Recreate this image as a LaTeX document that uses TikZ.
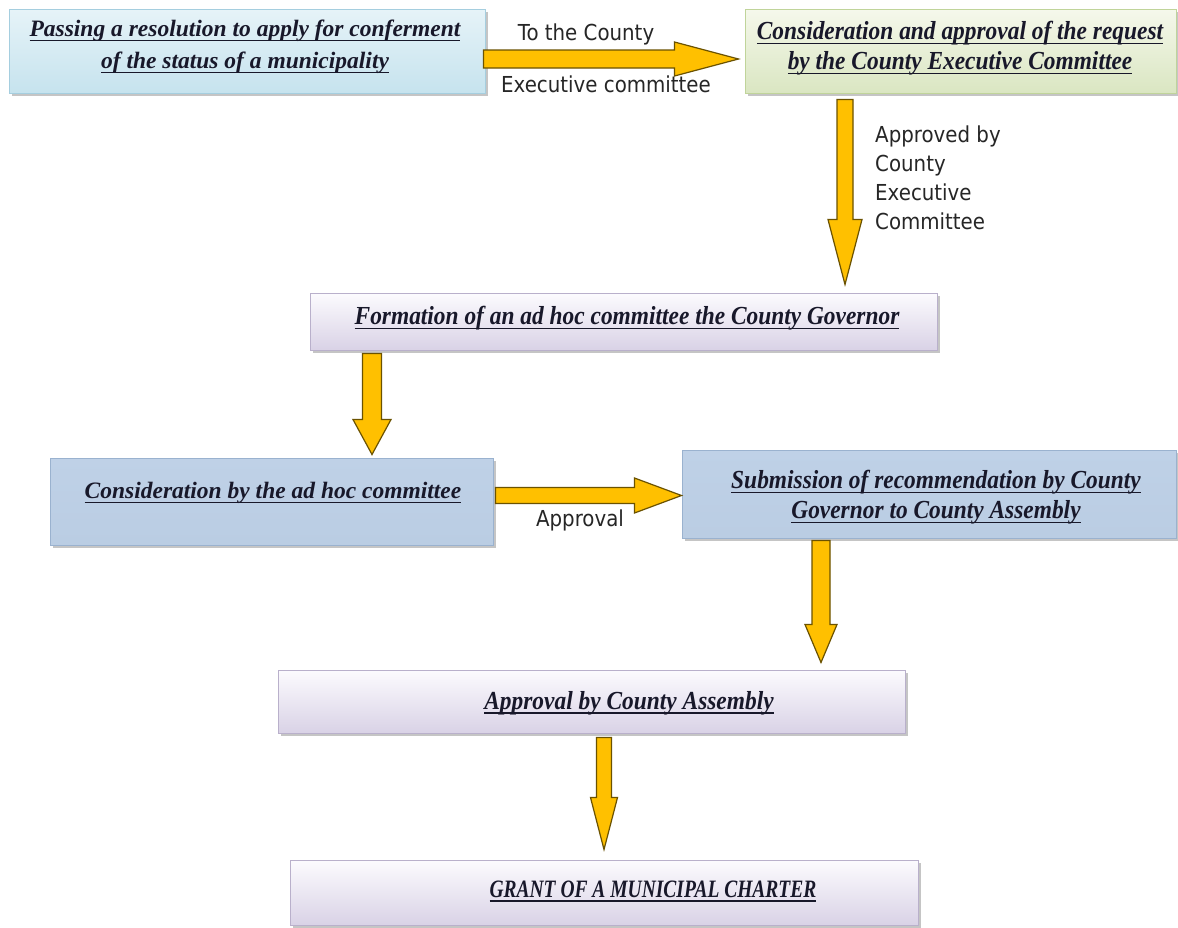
\documentclass[tikz,border=0pt]{standalone}
\usepackage{fontspec}
\setmainfont{Liberation Serif}
\newfontfamily\boxfont{Liberation Serif}
\newfontfamily\condfont{Liberation Serif}[FakeStretch=0.9]
\newfontfamily\capfont{Liberation Serif}[FakeStretch=0.78]
\newfontfamily\lblfont{DejaVu Sans}[FakeStretch=0.9]
\newcommand{\ulx}[1]{\leavevmode\setbox0\hbox{#1}\rlap{\vrule width\wd0 height -3.2pt depth 4.5pt}\box0}
\usetikzlibrary{calc,shadows}
\definecolor{arrfill}{HTML}{FFC000}
\definecolor{arrdraw}{HTML}{6B5200}
\definecolor{txtcol}{HTML}{18182A}
\definecolor{cyanT}{HTML}{E6F3F8}
\definecolor{cyanB}{HTML}{C6E3EE}
\definecolor{cyanD}{HTML}{A5CEDF}
\definecolor{grnT}{HTML}{F5F8EB}
\definecolor{grnB}{HTML}{DAE6C2}
\definecolor{grnD}{HTML}{C0D49A}
\definecolor{lilT}{HTML}{FCFBFE}
\definecolor{lilB}{HTML}{D9D2E6}
\definecolor{lilD}{HTML}{B9B0CB}
\definecolor{bluT}{HTML}{BFD1E7}
\definecolor{bluM}{HTML}{E6EDF6}
\definecolor{bluB}{HTML}{BACDE3}
\definecolor{bluD}{HTML}{9AB2CF}
\tikzset{
  flowbox/.style={rectangle, inner sep=0pt, line width=1pt,
    drop shadow={shadow xshift=3pt, shadow yshift=-3pt, fill=black!45, opacity=.5}},
  cyanbox/.style={flowbox, draw=cyanD, top color=cyanT, bottom color=cyanB},
  greenbox/.style={flowbox, draw=grnD, top color=grnT, bottom color=grnB},
  lilacbox/.style={flowbox, draw=lilD, top color=lilT, bottom color=lilB},
  bluebox/.style={flowbox, draw=bluD, top color=bluT, middle color=bluM, bottom color=bluB},
  boxtext/.style={align=center, text=txtcol, inner sep=0pt, font=\boxfont\bfseries\itshape\fontsize{23.5}{32}\selectfont},
  condtext/.style={align=center, text=txtcol, inner sep=0pt, font=\condfont\bfseries\itshape\fontsize{26}{30}\selectfont},
  captext/.style={align=center, text=txtcol, inner sep=0pt, font=\capfont\bfseries\itshape\fontsize{25}{30}\selectfont},
  lbl/.style={text=black!85, inner sep=0pt, font=\lblfont\fontsize{22}{29}\selectfont},
  fatarrow/.style={fill=arrfill, draw=arrdraw, line width=1.2pt, line join=miter}
}
% horizontal fat arrow: from #1 to #2, shaft half #3, head half #4, head length #5
\newcommand{\hfat}[5]{%
  \draw[fatarrow] ($(#1)+(0,#3)$) -- ($(#2)+(-#5,#3)$) -- ($(#2)+(-#5,#4)$) -- (#2)
    -- ($(#2)+(-#5,-#4)$) -- ($(#2)+(-#5,-#3)$) -- ($(#1)+(0,-#3)$) -- cycle;}
% vertical (downward) fat arrow
\newcommand{\vfat}[5]{%
  \draw[fatarrow] ($(#1)+(-#3,0)$) -- ($(#2)+(-#3,-#5)$) -- ($(#2)+(-#4,-#5)$) -- (#2)
    -- ($(#2)+(#4,-#5)$) -- ($(#2)+(#3,-#5)$) -- ($(#1)+(#3,0)$) -- cycle;}
\begin{document}
\begin{tikzpicture}[x=1pt,y=-1pt]
\useasboundingbox[fill=white] (0,0) rectangle (1178,927);

% boxes
\node[cyanbox, minimum width=476pt, minimum height=84pt] (b1) at (247,51) {};
\node[greenbox, minimum width=431pt, minimum height=84pt] (b2) at (960.5,51) {};
\node[lilacbox, minimum width=627pt, minimum height=57pt] (b3) at (623.5,321.5) {};
\node[bluebox, minimum width=443pt, minimum height=87pt] (b4) at (271.5,501.5) {};
\node[bluebox, minimum width=494pt, minimum height=88pt] (b5) at (929,494) {};
\node[lilacbox, minimum width=627pt, minimum height=63pt] (b6) at (591.5,701.5) {};
\node[lilacbox, minimum width=628pt, minimum height=65pt] (b7) at (604,892.5) {};

% box texts
\node[boxtext] (t1) at (245,47) {\ulx{Passing a resolution to apply for conferment}\\\ulx{of the status of a municipality}};
\node[condtext] (t2) at (960,48) {\ulx{Consideration and approval of the request}\\\ulx{by the County Executive Committee}};
\node[condtext] (t3) at (627,318) {\ulx{Formation of an ad hoc committee the County Governor}};
\node[boxtext] (t4) at (273,493) {\ulx{Consideration by the ad hoc committee}};
\node[condtext] (t5) at (936,497) {\ulx{Submission of recommendation by County}\\\ulx{Governor to County Assembly}};
\node[condtext] (t6) at (629,703) {\ulx{Approval by County Assembly}};
\node[captext] (t7) at (653,891) {\ulx{GRANT OF A MUNICIPAL CHARTER}};

% arrow end points
\coordinate (a1s) at ($(b1.east)+(-2,8)$);
\coordinate (a1e) at ($(b2.west)+(-6,8)$);
\coordinate (a2s) at ($(b2.south)+(-115.5,6)$);
\coordinate (a2e) at ($(b3.north)+(221.5,-8)$);
\coordinate (a3s) at ($(b3.south)+(-251.5,3)$);
\coordinate (a3e) at ($(b4.north)+(100.5,-3)$);
\coordinate (a4s) at ($(b4.east)+(2,-6)$);
\coordinate (a4e) at ($(b5.west)+(0,1.5)$);
\coordinate (a5s) at ($(b5.south)+(-108,2)$);
\coordinate (a5e) at ($(b6.north)+(229.5,-7)$);
\coordinate (a6s) at ($(b6.south)+(12.5,4)$);
\coordinate (a6e) at ($(b7.north)+(0,-10)$);

% arrows
\hfat{a1s}{a1e}{9}{17}{64}
\vfat{a2s}{a2e}{8}{17}{65}
\vfat{a3s}{a3e}{9.5}{19}{35}
\hfat{a4s}{a4e}{8}{17.5}{47}
\vfat{a5s}{a5e}{9}{16}{38}
\vfat{a6s}{a6e}{7.5}{13.5}{52}

% connector labels
\node[lbl] (l1) at (586,34) {To the County};
\node[lbl] (l2) at (606,84) {Executive committee};
\node[lbl, align=left, anchor=north west] (l3) at (875,126) {Approved by\\County\\Executive\\Committee};
\node[lbl] (l4) at (580,520) {Approval};
\end{tikzpicture}
\end{document}
